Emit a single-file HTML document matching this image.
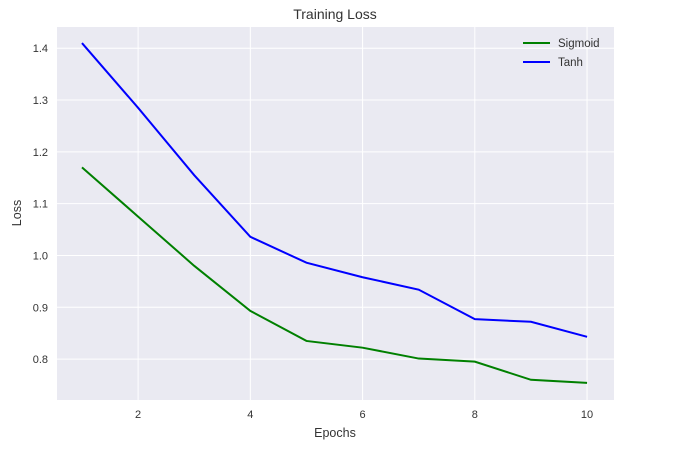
<!DOCTYPE html>
<html><head><meta charset="utf-8"><style>
body{margin:0;background:#fff;}
svg text{font-family:"Liberation Sans",sans-serif;fill:#333;}
</style></head><body>
<svg id="chart" width="674" height="449" xmlns="http://www.w3.org/2000/svg">
<rect x="57" y="27" width="557" height="373" fill="#eaeaf2"/>
<g id="grid"></g>
<g id="series"></g>
<text x="335" y="19" text-anchor="middle" font-size="14">Training Loss</text>
<text x="335" y="437" text-anchor="middle" font-size="12.5">Epochs</text>
<text x="21" y="213" text-anchor="middle" font-size="12.5" transform="rotate(-90 21 213)">Loss</text>
<g>
<line x1="523" y1="43" x2="550" y2="43" stroke="#008000" stroke-width="2"/>
<text x="558" y="47" font-size="11.5">Sigmoid</text>
<line x1="523" y1="62" x2="550" y2="62" stroke="#0000ff" stroke-width="2"/>
<text x="558" y="66" font-size="11.5">Tanh</text>
</g>
</svg>
<script>
const epochs=[1,2,3,4,5,6,7,8,9,10];
const sigmoid=[1.17,1.075,0.98,0.893,0.835,0.822,0.801,0.795,0.760,0.754];
const tanh=[1.41,1.285,1.155,1.036,0.986,0.958,0.934,0.877,0.872,0.843];
const xTicks=[2,4,6,8,10];
const yTicks=[0.8,0.9,1.0,1.1,1.2,1.3,1.4];
const NS="http://www.w3.org/2000/svg";
function xs(v){return 57+(v-0.555)*(557/(10.48-0.555));}
function ys(v){return 400-(v-0.721)*(373/(1.441-0.721));}
const grid=document.getElementById('grid');
xTicks.forEach(t=>{
 const l=document.createElementNS(NS,'line');
 l.setAttribute('x1',xs(t));l.setAttribute('x2',xs(t));l.setAttribute('y1',27);l.setAttribute('y2',400);
 l.setAttribute('stroke','#fff');l.setAttribute('stroke-width','1');
 
 
 grid.appendChild(l);
 const tx=document.createElementNS(NS,'text');
 tx.setAttribute('x',xs(t));tx.setAttribute('y',418);tx.setAttribute('text-anchor','middle');tx.setAttribute('font-size','11');
 tx.textContent=t;
 
 
 grid.appendChild(tx);
});
yTicks.forEach(t=>{
 const l=document.createElementNS(NS,'line');
 l.setAttribute('x1',57);l.setAttribute('x2',614);l.setAttribute('y1',ys(t));l.setAttribute('y2',ys(t));
 l.setAttribute('stroke','#fff');l.setAttribute('stroke-width','1');
 
 
 grid.appendChild(l);
 const tx=document.createElementNS(NS,'text');
 tx.setAttribute('x',48);tx.setAttribute('y',ys(t)+4);tx.setAttribute('text-anchor','end');tx.setAttribute('font-size','11');
 tx.textContent=t.toFixed(1);
 
 
 grid.appendChild(tx);
});
const ser=document.getElementById('series');
function draw(vals,color,name){
 const p=document.createElementNS(NS,'polyline');
 p.setAttribute('points',vals.map((v,i)=>xs(epochs[i])+','+ys(v)).join(' '));
 p.setAttribute('fill','none');p.setAttribute('stroke',color);p.setAttribute('stroke-width','2');
 
 
 ser.appendChild(p);
}
draw(sigmoid,'#008000','sigmoid-line');
draw(tanh,'#0000ff','tanh-line');
</script>
</body></html>
